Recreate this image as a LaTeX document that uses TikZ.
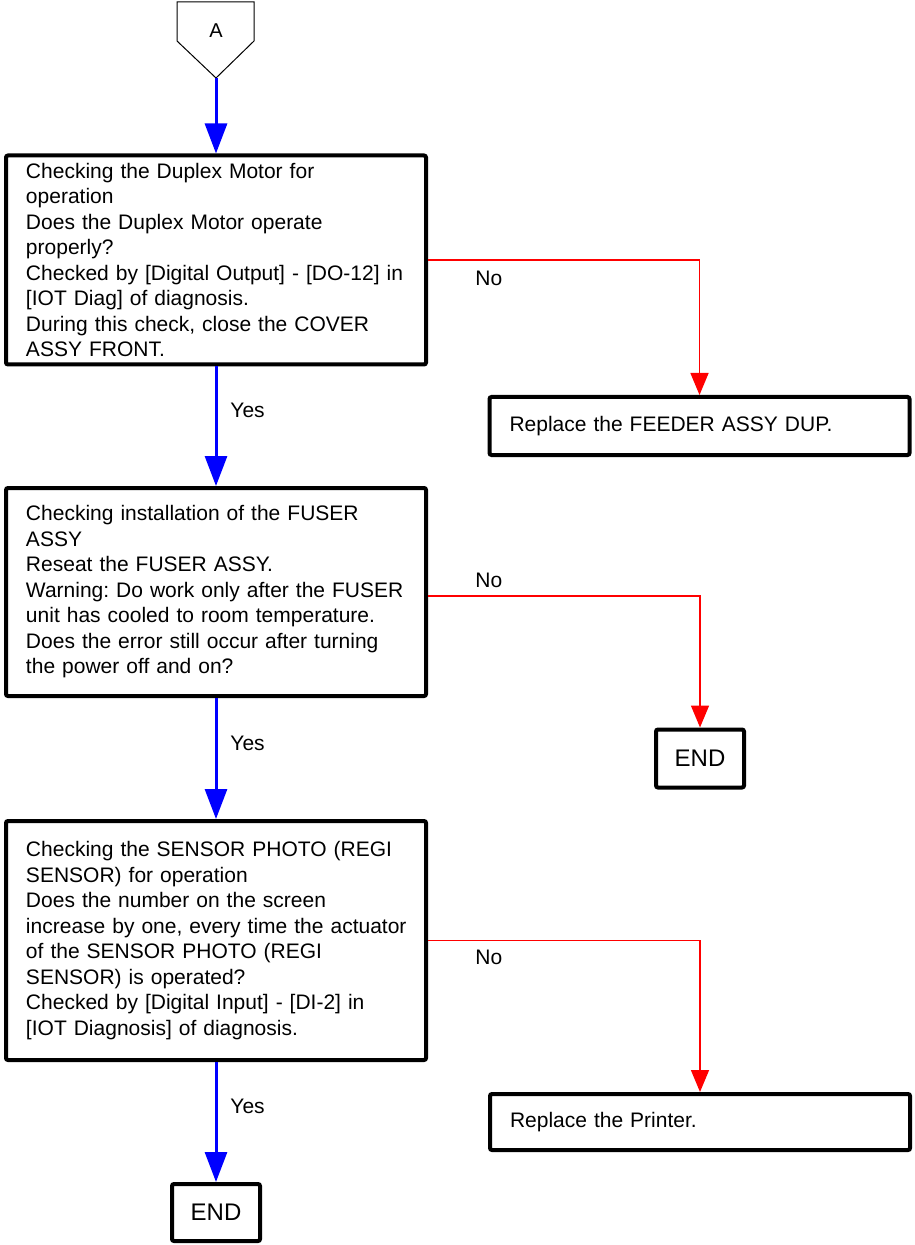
\documentclass[tikz,border=0pt]{standalone}
\usepackage{fontspec}
\setmainfont{Liberation Sans}
\usepackage{tikz}
\usetikzlibrary{arrows.meta,positioning}
\definecolor{FlowBlue}{HTML}{0000FF}
\definecolor{FlowRed}{HTML}{FF0000}
\tikzset{
  checkbox/.style={draw, line width=2pt, rounded corners=1pt, text width=200pt,
    inner xsep=5pt, inner ysep=2pt, align=left,
    execute at begin node={\leftskip=5pt\frenchspacing\hyphenpenalty=10000},
    font=\fontsize{10.5}{12.75}\selectfont},
  replbox/.style={checkbox, minimum height=29pt},
  endbox/.style={draw, line width=2pt, rounded corners=1pt, minimum width=44pt,
    minimum height=29pt, font=\fontsize{12}{14}\selectfont},
  offpage/.style={draw, line width=0.5pt},
  yesflow/.style={draw=FlowBlue, line width=1.5pt, -{Triangle[width=11pt,length=15pt]}},
  noflow/.style={draw=FlowRed, line width=0.75pt, -{Triangle[width=9pt,length=11pt]}},
  flowlabel/.style={font=\fontsize{10.5}{12.75}\selectfont, inner sep=0pt, anchor=west}
}

\begin{document}
\begin{tikzpicture}[x=0.5pt, y=-0.5pt]
\useasboundingbox (0,0) rectangle (914,1245);

\draw[offpage] (177,2) -- (254,2) -- (254,41) -- (216,78) -- (177,41) -- cycle;
\node[font=\fontsize{10}{12}\selectfont] (conA) at (216,31) {A};
\coordinate (conAtip) at (216,78);

\node[checkbox, minimum height=104.5pt] (chk1) at (216,260) {
  Checking the Duplex Motor for\\
  operation\\
  Does the Duplex Motor operate\\
  properly?\\
  Checked by [Digital Output] - [DO-12] in\\{}
  [IOT Diag] of diagnosis.\\
  During this check, close the COVER\\
  ASSY FRONT.};
\node[replbox] (repl1) at (699.5,426) {Replace the FEEDER ASSY DUP.};

\node[checkbox, minimum height=104pt] (chk2) at (216,592) {
  Checking installation of the FUSER\\
  ASSY\\
  Reseat the FUSER ASSY.\\
  Warning: Do work only after the FUSER\\
  unit has cooled to room temperature.\\
  Does the error still occur after turning\\
  the power off and on?};
\node[endbox] (end1) at (700,758.5) {END};

\node[checkbox, minimum height=119.5pt] (chk3) at (216,940.5) {
  Checking the SENSOR PHOTO (REGI\\
  SENSOR) for operation\\
  Does the number on the screen\\
  increase by one, every time the actuator\\
  of the SENSOR PHOTO (REGI\\
  SENSOR) is operated?\\
  Checked by [Digital Input] - [DI-2] in\\{}
  [IOT Diagnosis] of diagnosis.};
\node[replbox, minimum height=28pt] (repl2) at (700,1122) {Replace the Printer.};
\node[endbox, minimum height=28.5pt] (end2) at (216,1212.5) {END};

\draw[yesflow] (conAtip) -- (chk1.north);
\draw[yesflow] (chk1.south) -- (chk2.north);
\draw[yesflow] (chk2.south) -- (chk3.north);
\draw[yesflow] (chk3.south) -- (end2.north);
\draw[noflow] (chk1.east) -| (repl1.north);
\draw[noflow] ([yshift=-2pt]chk2.east) -| (end1.north);
\draw[noflow] (chk3.east) -| (repl2.north);

\node[flowlabel] (yes1) at (230,410) {Yes};
\node[flowlabel] (yes2) at (230,743) {Yes};
\node[flowlabel] (yes3) at (230,1106) {Yes};
\node[flowlabel] (no1) at (475,278) {No};
\node[flowlabel] (no2) at (475,580) {No};
\node[flowlabel] (no3) at (475,957) {No};
\end{tikzpicture}
\end{document}
